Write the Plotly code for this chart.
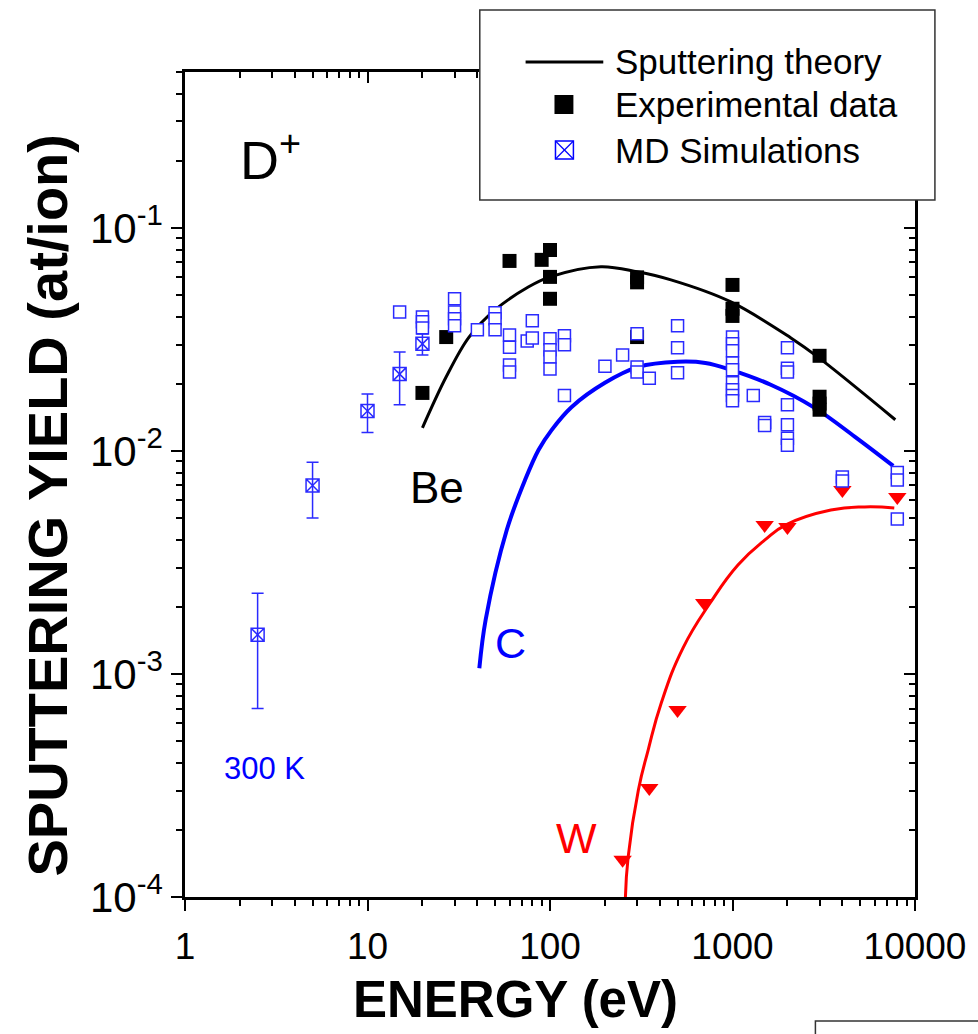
import plotly.graph_objects as go

# ---------------- data ----------------
# Sputtering theory curves (energy in eV, yield in atoms/ion)
be_theory_E = [20, 27, 36, 50, 76, 100, 190, 300, 460, 980, 2090, 2930, 7800]
be_theory_Y = [0.0127, 0.0215, 0.0324, 0.0429, 0.0543, 0.0603, 0.0670, 0.0636,
               0.0585, 0.0466, 0.0321, 0.0264, 0.0138]

c_theory_E = [41, 44.4, 58, 73, 86.5, 102, 131, 200, 305, 500, 710, 980, 1620, 2820, 4670, 7600]
c_theory_Y = [0.00106, 0.00175, 0.00443, 0.00741, 0.0101, 0.0124, 0.0157, 0.0202, 0.0238,
              0.0251, 0.0248, 0.0231, 0.0198, 0.0156, 0.0116, 0.00857]

w_theory_E = [259, 268, 305, 345, 407, 536, 754, 1071, 1505, 1960, 3460, 5300, 7700]
w_theory_Y = [1.0e-4, 1.51e-4, 3.02e-4, 4.56e-4, 7.41e-4, 1.31e-3, 2.08e-3, 3.08e-3,
              3.99e-3, 4.66e-3, 5.43e-3, 5.61e-3, 5.55e-3]

# Experimental data
be_exp_E = [20, 27, 60, 90, 100, 100, 100, 300, 300, 300, 1000, 1000, 1000,
            3000, 3000, 3000, 3000]
be_exp_Y = [0.0182, 0.0324, 0.0711, 0.0719, 0.0796, 0.0603, 0.0481, 0.0600, 0.0570,
            0.0324, 0.0555, 0.0434, 0.0403, 0.0267, 0.0175, 0.0163, 0.0153]

w_exp_E = [250, 350, 500, 700, 1500, 2000, 4000, 8000]
w_exp_Y = [1.47e-4, 3.08e-4, 6.9e-4, 2.08e-3, 4.66e-3, 4.56e-3, 6.68e-3, 6.22e-3]

# MD simulations (various temperatures)
md_E = [15,
        20, 20, 20,
        30, 30, 30, 30,
        40,
        50, 50, 50,
        60, 60, 60, 60,
        75, 80, 80,
        100, 100, 100, 100,
        120, 120, 120,
        200, 250,
        300, 300, 300,
        350,
        500, 500, 500,
        1000, 1000, 1000, 1000, 1000, 1000, 1000, 1000, 1000,
        1300, 1500, 1500,
        2000, 2000, 2000, 2000, 2000, 2000, 2000,
        4000, 4000,
        8000, 8000, 8000]
md_Y = [0.0420,
        0.0399, 0.0379, 0.0356,
        0.0481, 0.0420, 0.0391, 0.0364,
        0.0349,
        0.0416, 0.0391, 0.0349,
        0.0331, 0.0292, 0.0243, 0.0226,
        0.0311, 0.0383, 0.0321,
        0.0318, 0.0284, 0.0264, 0.0233,
        0.0328, 0.0299, 0.0177,
        0.0240, 0.0269,
        0.0335, 0.0238, 0.0226,
        0.0212,
        0.0364, 0.0290, 0.0224,
        0.0324, 0.0302, 0.0281, 0.0248, 0.0231, 0.0202, 0.0188, 0.0177, 0.0168,
        0.0177, 0.0134, 0.0130,
        0.0290, 0.0235, 0.0226, 0.0161, 0.0131, 0.0114, 0.0106,
        0.00764, 0.00733,
        0.0080, 0.0074, 0.00495]

# MD simulations at 300 K with error bars
md300_E = [2.5, 5, 10, 15, 20]
md300_Y = [0.0015, 0.0070, 0.0151, 0.0221, 0.0302]
md300_err_plus = [0.0008, 0.0019, 0.0029, 0.0057, 0.0033]
md300_err_minus = [0.0008, 0.0020, 0.0030, 0.0060, 0.0033]

# axis ticks
x_major = [1, 10, 100, 1000, 10000]
x_major_text = ["1", "10", "100", "1000", "10000"]
y_major = [1e-4, 1e-3, 1e-2, 1e-1]
y_major_text = ["10<sup>-4</sup>", "10<sup>-3</sup>", "10<sup>-2</sup>", "10<sup>-1</sup>"]
x_minor = [k * 10 ** n for n in range(0, 4) for k in range(2, 10)]
y_minor = [k * 10.0 ** n for n in range(-4, 0) for k in range(2, 10) if k * 10.0 ** n <= 0.5]

# ---------------- layout geometry (pixels) ----------------
W, H = 978, 1034
L, R, T, B = 185, 918, 72, 897


def fx(px):
    return (px - L) / (R - L)


def fy(py):
    return (B - py) / (B - T)


BLUE = "#0000ff"
RED = "#ff0000"
MDBLUE = "#2a2aff"
SANS = "Liberation Sans, Arial, sans-serif"

fig = go.Figure()

# theory lines
fig.add_trace(go.Scatter(x=be_theory_E, y=be_theory_Y, mode="lines",
                         line=dict(color="black", width=3, shape="spline"), showlegend=False))
fig.add_trace(go.Scatter(x=c_theory_E, y=c_theory_Y, mode="lines",
                         line=dict(color=BLUE, width=4, shape="spline"), showlegend=False))
fig.add_trace(go.Scatter(x=w_theory_E, y=w_theory_Y, mode="lines",
                         line=dict(color=RED, width=3, shape="spline", smoothing=1.3),
                         showlegend=False))

# experimental points
fig.add_trace(go.Scatter(x=w_exp_E, y=w_exp_Y, mode="markers",
                         marker=dict(symbol="triangle-down", size=16, color=RED,
                                     line=dict(width=0)), showlegend=False))
fig.add_trace(go.Scatter(x=be_exp_E, y=be_exp_Y, mode="markers",
                         marker=dict(symbol="square", size=14, color="black",
                                     line=dict(width=0)), showlegend=False))

# MD simulation points
fig.add_trace(go.Scatter(x=md_E, y=md_Y, mode="markers",
                         marker=dict(symbol="square", size=12, color="white",
                                     line=dict(color=MDBLUE, width=1.5)),
                         showlegend=False))
fig.add_trace(go.Scatter(x=md300_E, y=md300_Y, mode="markers",
                         marker=dict(symbol="square-x-open", size=13, color=MDBLUE,
                                     line=dict(color=MDBLUE, width=1.5)),
                         error_y=dict(type="data", symmetric=False, array=md300_err_plus,
                                      arrayminus=md300_err_minus, color=MDBLUE,
                                      thickness=1.5, width=6),
                         showlegend=False))

# empty trace to carry the mirrored (top/right) axes
fig.add_trace(go.Scatter(x=[], y=[], xaxis="x2", yaxis="y2", showlegend=False))

x_range = [0, 4]
y_range = [-4, -0.30103]

axis_common = dict(type="log", showgrid=False, zeroline=False)

fig.update_layout(
    width=W, height=H,
    margin=dict(l=L, r=W - R, t=T, b=H - B),
    paper_bgcolor="white", plot_bgcolor="white",
    showlegend=False,
    xaxis=dict(**axis_common, range=x_range, showline=True, linewidth=2.5,
               linecolor="black", mirror=True,
               ticks="outside", ticklen=11, tickwidth=2, tickcolor="black",
               tickvals=x_major, ticktext=x_major_text,
               ticklabelstandoff=4,
               tickfont=dict(family=SANS, size=37, color="black"),
               minor=dict(tickmode="array", tickvals=x_minor, ticks="outside",
                          ticklen=6, tickwidth=2, tickcolor="black")),
    yaxis=dict(**axis_common, range=y_range, showline=True, linewidth=2.5,
               linecolor="black", mirror=True,
               ticks="outside", ticklen=11, tickwidth=2, tickcolor="black",
               tickvals=y_major, ticktext=y_major_text,
               tickfont=dict(family=SANS, size=42, color="black"),
               minor=dict(tickmode="array", tickvals=y_minor, ticks="outside",
                          ticklen=6, tickwidth=2, tickcolor="black")),
    xaxis2=dict(**axis_common, range=x_range, overlaying="x", side="top",
                anchor="y2", showline=False, showticklabels=False,
                ticks="inside", ticklen=11, tickwidth=2, tickcolor="black",
                tickvals=x_major,
                minor=dict(tickmode="array", tickvals=x_minor, ticks="inside",
                           ticklen=6, tickwidth=2, tickcolor="black")),
    yaxis2=dict(**axis_common, range=y_range, overlaying="y", side="right",
                anchor="x2", showline=False, showticklabels=False,
                ticks="inside", ticklen=11, tickwidth=2, tickcolor="black",
                tickvals=y_major,
                minor=dict(tickmode="array", tickvals=y_minor, ticks="inside",
                           ticklen=6, tickwidth=2, tickcolor="black")),
)

shapes = []
annotations = []

# legend box (covers the frame in the top-right corner)
shapes.append(dict(type="rect", xref="paper", yref="paper", layer="above",
                   x0=fx(481), x1=fx(938), y0=fy(200), y1=fy(10),
                   fillcolor="white", line=dict(color="#333333", width=1.5)))
# legend glyphs
shapes.append(dict(type="line", xref="paper", yref="paper", layer="above",
                   x0=fx(527), x1=fx(605), y0=fy(62), y1=fy(62),
                   line=dict(color="black", width=3)))
shapes.append(dict(type="rect", xref="paper", yref="paper", layer="above",
                   x0=fx(556), x1=fx(575), y0=fy(114), y1=fy(95),
                   fillcolor="black", line=dict(width=0)))
shapes.append(dict(type="rect", xref="paper", yref="paper", layer="above",
                   x0=fx(557), x1=fx(575), y0=fy(159), y1=fy(141),
                   fillcolor="rgba(0,0,0,0)", line=dict(color=BLUE, width=1.5)))
shapes.append(dict(type="line", xref="paper", yref="paper", layer="above",
                   x0=fx(557), x1=fx(575), y0=fy(159), y1=fy(141),
                   line=dict(color=BLUE, width=1.2)))
shapes.append(dict(type="line", xref="paper", yref="paper", layer="above",
                   x0=fx(557), x1=fx(575), y0=fy(141), y1=fy(159),
                   line=dict(color=BLUE, width=1.2)))

# neighbouring panel frame at the lower right
shapes.append(dict(type="rect", xref="paper", yref="paper", layer="above",
                   x0=fx(818), x1=fx(1000), y0=fy(1060), y1=fy(1021),
                   fillcolor="white", line=dict(color="#333333", width=1.5)))

for text, py in [("Sputtering theory", 62), ("Experimental data", 104),
                 ("MD Simulations", 150)]:
    annotations.append(dict(text=text, xref="paper", yref="paper", x=fx(615), y=fy(py),
                            xanchor="left", yanchor="middle", showarrow=False,
                            font=dict(family=SANS, size=35, color="black")))

# in-plot labels
labels = [
    dict(text="D<sup>+</sup>", x=fx(238), y=fy(156), xanchor="left", yanchor="middle",
         font=dict(family=SANS, size=54, color="black")),
    dict(text="Be", x=fx(438), y=fy(487), xanchor="center", yanchor="middle",
         font=dict(family=SANS, size=44, color="black")),
    dict(text="C", x=fx(512), y=fy(643), xanchor="center", yanchor="middle",
         font=dict(family=SANS, size=43, color=BLUE)),
    dict(text="W", x=fx(578), y=fy(838), xanchor="center", yanchor="middle",
         font=dict(family=SANS, size=43, color=RED)),
    dict(text="300 K", x=fx(265), y=fy(768), xanchor="center", yanchor="middle",
         font=dict(family=SANS, size=31, color=BLUE)),
]
for a in labels:
    a.update(xref="paper", yref="paper", showarrow=False)
annotations += labels

# axis titles
annotations.append(dict(text="<b>ENERGY (eV)</b>", xref="paper", yref="paper",
                        x=fx(517), y=fy(1000), xanchor="center", yanchor="middle",
                        showarrow=False,
                        font=dict(family=SANS, size=51, color="black")))
annotations.append(dict(text="<b>SPUTTERING YIELD (at/ion)</b>", xref="paper", yref="paper",
                        x=fx(46), y=fy(505), xanchor="center", yanchor="middle",
                        textangle=-90, showarrow=False,
                        font=dict(family=SANS, size=56, color="black")))

fig.update_layout(shapes=shapes, annotations=annotations)

fig.write_html("out.html")
